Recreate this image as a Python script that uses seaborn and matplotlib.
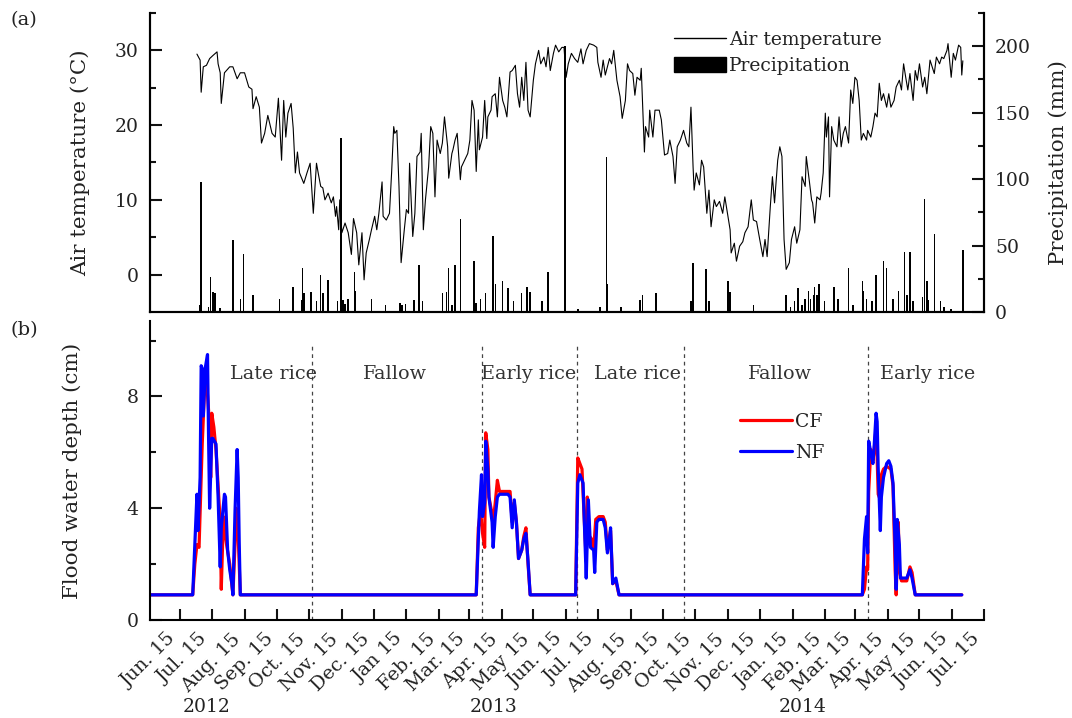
import numpy as np
import pandas as pd
import matplotlib
matplotlib.use("Agg")
import matplotlib.pyplot as plt
import matplotlib.transforms as mtransforms
from matplotlib.lines import Line2D
from matplotlib.patches import Patch
from matplotlib.ticker import FixedLocator
import seaborn as sns

START = pd.Timestamp("2012-06-15")

# ---- daily air temperature (deg C); day numbers counted from 15 Jun 2012 ----
temp_day = [16, 19, 20, 22, 25, 28, 31, 35, 36, 38, 39, 42, 47, 50, 54, 57, 61, 65, 68, 69,
            72, 75, 77, 80, 83, 87, 90, 93, 96, 98, 100, 102, 105, 107, 109, 111, 113, 117, 120, 123,
            126, 129, 131, 133, 135, 137, 140, 143, 145, 147, 148, 150, 151, 153, 156, 159, 162, 164, 167, 169,
            172, 174, 176, 179, 181, 184, 186, 188, 191, 192, 195, 198, 200, 202, 203, 205, 207, 209, 212, 214,
            216, 217, 220, 222, 224, 227, 228, 230, 232, 235, 237, 239, 241, 243, 246, 248, 250, 253, 254, 257,
            258, 260, 262, 265, 266, 269, 272, 274, 276, 278, 280, 282, 283, 286, 288, 290, 291, 294, 295, 298,
            300, 302, 305, 307, 309, 312, 314, 317, 319, 321, 323, 325, 327, 329, 331, 334, 336, 339, 341, 344,
            346, 348, 350, 353, 355, 358, 361, 363, 365, 367, 370, 373, 376, 379, 381, 384, 387, 391, 394, 395,
            398, 400, 402, 406, 408, 410, 413, 416, 418, 421, 423, 425, 428, 430, 432, 435, 436, 439, 440, 443,
            444, 447, 449, 453, 455, 458, 461, 463, 466, 468, 470, 473, 476, 479, 481, 483, 485, 486, 488, 491,
            493, 495, 498, 500, 502, 505, 507, 510, 513, 515, 518, 520, 521, 524, 526, 529, 532, 534, 537, 540,
            542, 545, 548, 551, 553, 555, 558, 560, 562, 565, 567, 569, 571, 573, 576, 578, 581, 583, 586, 588,
            591, 592, 595, 597, 598, 600, 602, 605, 606, 608, 610, 611, 613, 614, 616, 618, 621, 623, 625, 627,
            629, 632, 634, 636, 638, 640, 642, 644, 646, 649, 650, 653, 655, 657, 659, 661, 663, 665, 668, 670,
            672, 675, 677, 680, 682, 684, 686, 688, 690, 693, 695, 697, 699, 702, 704, 706, 709, 711, 713, 715,
            718, 720, 722, 725, 726, 729, 731, 733, 736, 738, 739, 740]
temp_c = [29.5, 28.7, 24.4, 27.8, 28.0, 28.9, 29.3, 29.8, 28.2, 27.0, 22.9, 27.0, 27.8, 27.8, 26.2, 27.0, 27.0, 25.1, 24.8, 22.2,
          23.8, 22.4, 17.6, 18.9, 21.3, 18.9, 18.4, 23.6, 15.3, 23.3, 18.4, 21.6, 22.9, 19.6, 13.6, 16.4, 13.6, 12.2, 13.6, 14.9,
          8.2, 14.9, 13.3, 11.8, 11.6, 10.0, 10.9, 9.6, 10.4, 7.8, 9.1, 6.0, 10.0, 5.6, 6.9, 5.6, 2.7, 7.5, 5.6, 1.3,
          5.6, -0.7, 2.9, 4.7, 6.0, 7.8, 6.0, 8.2, 12.4, 7.8, 7.3, 8.2, 13.6, 19.8, 18.9, 19.3, 11.8, 1.6, 6.0, 8.7,
          8.2, 14.9, 5.1, 8.2, 15.8, 16.4, 18.9, 6.0, 10.0, 14.4, 19.8, 18.9, 10.4, 18.0, 16.2, 17.6, 21.1, 17.1, 12.9, 16.2,
          16.7, 18.0, 18.9, 12.7, 14.4, 15.3, 16.2, 18.0, 23.3, 22.0, 13.8, 20.7, 16.7, 18.4, 23.3, 18.2, 21.1, 22.0, 23.8, 24.2,
          21.1, 26.4, 23.3, 22.4, 21.1, 27.1, 27.3, 28.0, 24.2, 22.4, 26.4, 23.3, 28.4, 22.0, 21.1, 26.0, 28.2, 30.0, 28.2, 29.1,
          27.8, 30.4, 27.3, 29.6, 30.7, 29.8, 30.4, 30.4, 26.4, 28.2, 29.6, 28.9, 28.4, 30.2, 28.2, 30.0, 30.9, 30.7, 30.4, 28.4,
          26.4, 28.7, 26.7, 28.9, 28.2, 30.0, 26.0, 23.8, 20.9, 23.3, 28.2, 27.3, 26.9, 24.0, 26.4, 26.0, 27.6, 16.4, 19.8, 18.4,
          22.0, 18.4, 22.0, 22.0, 20.7, 16.0, 16.2, 18.0, 15.8, 12.2, 17.1, 18.0, 19.3, 17.6, 17.1, 22.4, 14.4, 11.3, 13.6, 12.0,
          15.3, 14.4, 8.2, 11.3, 6.4, 10.0, 9.1, 9.8, 8.2, 10.4, 7.8, 6.0, 2.9, 4.2, 1.8, 3.8, 4.4, 5.6, 6.4, 10.0,
          7.3, 7.1, 4.7, 2.4, 4.7, 2.4, 9.1, 13.1, 9.6, 15.3, 17.1, 15.8, 4.7, 0.7, 1.6, 4.7, 6.4, 4.2, 6.0, 13.1,
          11.8, 15.8, 12.4, 10.0, 9.6, 6.9, 10.4, 10.0, 10.9, 13.6, 21.6, 18.4, 21.1, 10.4, 19.8, 18.0, 17.1, 21.1, 17.1, 18.9,
          19.8, 17.6, 24.7, 22.9, 26.4, 26.0, 23.3, 18.0, 18.9, 18.0, 19.3, 18.4, 19.8, 21.6, 21.1, 25.6, 23.3, 24.2, 22.4, 24.2,
          22.4, 23.3, 25.1, 26.0, 24.7, 28.2, 26.4, 24.7, 26.9, 23.3, 27.3, 26.0, 28.2, 25.1, 26.4, 24.2, 28.7, 27.8, 26.9, 29.1,
          28.2, 29.1, 28.9, 30.0, 30.9, 26.4, 29.6, 28.7, 30.7, 30.4, 26.7, 28.6]

# ---- daily precipitation (mm) ----
precip_day = [19, 20, 27, 29, 31, 33, 38, 50, 57, 60, 69, 94, 107, 115, 116, 117, 124, 129, 133, 135,
              140, 149, 152, 154, 156, 159, 165, 166, 181, 194, 208, 210, 213, 221, 226, 229, 248, 252, 254, 257,
              260, 265, 278, 280, 284, 289, 296, 298, 305, 310, 315, 323, 328, 331, 342, 348, 364, 376, 397, 403,
              404, 417, 435, 437, 450, 483, 485, 497, 500, 518, 520, 542, 573, 577, 581, 584, 588, 591, 594, 596,
              599, 600, 602, 604, 609, 618, 622, 632, 636, 645, 646, 649, 654, 658, 665, 668, 674, 679, 685, 687,
              690, 693, 702, 704, 706, 707, 713, 719, 722, 729, 740]
precip_mm = [5, 98, 4, 26, 15, 14, 3, 54, 10, 44, 13, 10, 19, 9, 33, 14, 15, 8, 28, 14,
             24, 8, 131, 9, 6, 10, 30, 16, 10, 5, 7, 5, 6, 9, 35, 8, 14, 15, 33, 5,
             35, 70, 38, 7, 10, 14, 57, 21, 23, 18, 8, 14, 19, 15, 8, 30, 200, 2, 4, 117,
             21, 4, 9, 13, 14, 8, 37, 32, 8, 23, 15, 5, 13, 4, 8, 18, 5, 10, 16, 10,
             13, 19, 13, 21, 8, 19, 10, 33, 5, 23, 16, 10, 8, 28, 38, 33, 10, 16, 45, 13,
             45, 8, 11, 85, 23, 9, 59, 8, 4, 2, 47]

# ---- flood water depth (cm) under the two water regimes ----
cf_day = [-30, 12, 14, 16, 18, 20, 21, 23, 25, 27, 29, 30, 32, 34, 36, 38, 39, 41, 42, 44, 47, 50, 52, 53, 55, 57,
          280, 282, 284, 286, 288, 289, 291, 292, 295, 296, 298, 300, 302, 307, 312, 314, 316, 318, 320, 323, 325, 327, 329, 331,
          374, 376, 378, 380, 382, 384, 385, 387, 389, 391, 393, 396, 400, 402, 404, 406, 407, 409, 412, 415,
          645, 647, 649, 650, 651, 653, 655, 656, 658, 659, 660, 662, 663, 665, 668, 672, 674, 676, 677, 679, 680, 682, 687, 690, 692, 695, 739]
cf_cm = [0.9, 0.9, 2.0, 2.7, 2.6, 5.1, 6.3, 8.1, 8.6, 7.5, 5.1, 7.4, 6.9, 6.1, 4.8, 3.5, 1.1, 3.7, 3.3, 2.7, 2.0, 0.9, 2.7, 4.0, 3.0, 0.9,
         0.9, 3.3, 3.9, 3.1, 2.6, 6.7, 6.1, 4.4, 3.8, 3.5, 4.2, 5.0, 4.6, 4.6, 4.6, 3.5, 4.2, 3.5, 2.2, 2.5, 3.0, 3.3, 2.0, 0.9,
         0.9, 5.8, 5.6, 5.4, 3.7, 2.1, 4.4, 3.0, 2.9, 2.5, 3.6, 3.7, 3.7, 3.5, 2.5, 3.0, 3.2, 1.3, 1.4, 0.9,
         0.9, 1.1, 1.9, 1.8, 4.6, 6.1, 5.7, 6.0, 6.9, 5.8, 4.5, 4.3, 5.2, 5.4, 5.5, 5.4, 4.8, 1.8, 0.9, 3.5, 1.8, 1.4, 1.4, 1.9, 1.7, 0.9, 0.9]
nf_day = [-30, 12, 14, 16, 17, 19, 20, 21, 22, 24, 26, 27, 28, 30, 31, 34, 36, 38, 39, 42, 43, 45, 47, 49, 50, 52, 54, 55, 56, 57,
          280, 283, 285, 286, 288, 289, 291, 292, 295, 296, 298, 300, 302, 307, 310, 312, 314, 316, 318, 320, 323, 325, 327, 329, 331,
          374, 376, 378, 381, 383, 384, 386, 388, 391, 392, 394, 396, 400, 402, 404, 406, 407, 409, 412, 415,
          645, 647, 649, 650, 651, 653, 655, 656, 658, 659, 660, 662, 663, 665, 668, 670, 672, 674, 676, 677, 678, 680, 681, 684, 687, 690, 692, 695, 739]
nf_cm = [0.9, 0.9, 2.7, 4.5, 3.2, 5.1, 9.1, 9.0, 7.3, 9.05, 9.5, 6.5, 4.0, 6.5, 6.5, 6.3, 4.4, 1.9, 3.3, 4.5, 4.4, 2.5, 1.8, 1.3, 0.9, 3.9, 6.1, 5.1, 2.7, 0.9,
         0.9, 3.9, 5.2, 3.7, 4.2, 6.4, 5.4, 4.4, 3.5, 2.6, 3.7, 4.4, 4.5, 4.5, 4.5, 4.4, 3.3, 4.3, 3.5, 2.2, 2.5, 2.9, 3.1, 2.1, 0.9,
         0.9, 4.9, 5.2, 4.9, 2.6, 1.5, 4.3, 2.6, 2.5, 1.7, 3.5, 3.6, 3.6, 3.3, 2.4, 2.9, 3.3, 1.3, 1.5, 0.9,
         0.9, 2.9, 3.7, 2.4, 6.4, 6.0, 5.6, 6.1, 7.4, 7.1, 5.4, 3.2, 4.4, 5.1, 5.6, 5.7, 5.5, 4.9, 2.7, 1.1, 3.6, 2.7, 1.5, 1.5, 1.5, 1.8, 1.5, 0.9, 0.9]

# ---- crop seasons ----
boundary_day = [125, 285, 375, 476, 650]
season_names = ["Late rice", "Fallow", "Early rice", "Late rice", "Fallow", "Early rice"]
season_mid_day = [88, 203, 330, 432, 567, 707]

tick_labels = ["Jun. 15", "Jul. 15", "Aug. 15", "Sep. 15", "Oct. 15", "Nov. 15", "Dec. 15",
               "Jan 15", "Feb. 15", "Mar. 15", "Apr. 15", "May 15", "Jun. 15", "Jul. 15",
               "Aug. 15", "Sep. 15", "Oct. 15", "Nov. 15", "Dec. 15", "Jan. 15", "Feb. 15",
               "Mar. 15", "Apr. 15", "May 15", "Jun. 15", "Jul. 15"]
years = ["2012", "2013", "2014"]


def to_date(days):
    return START + pd.to_timedelta(np.asarray(days, dtype=float), unit="D")


sns.set_theme(style="ticks")
plt.rcParams["font.family"] = ["DejaVu Serif"]
plt.rcParams["axes.linewidth"] = 1.5
plt.rcParams["text.color"] = "#222222"
plt.rcParams["axes.labelcolor"] = "#222222"
plt.rcParams["xtick.color"] = "#111111"
plt.rcParams["ytick.color"] = "#111111"
plt.rcParams["xtick.labelcolor"] = "#222222"
plt.rcParams["ytick.labelcolor"] = "#222222"

TICK_FS = 13.5
XTICK_FS = 13.8
LABEL_FS = 15.4

fig = plt.figure(figsize=(10.72, 7.18), dpi=100)
ax1 = fig.add_axes([0.1399, 0.5655, 0.7780, 0.4164])
ax2 = fig.add_axes([0.1399, 0.1365, 0.7780, 0.4164], sharex=ax1)
ax1r = ax1.twinx()

# panel (a): temperature line and precipitation bars
temp_df = pd.DataFrame({"date": to_date(temp_day), "temp": temp_c})
sns.lineplot(data=temp_df, x="date", y="temp", ax=ax1, color="black", linewidth=0.8,
             estimator=None, legend=False)
ax1r.bar(to_date(precip_day), precip_mm, width=1.4, color="black", linewidth=0)

# panel (b): flood water depth
flood_df = pd.concat([
    pd.DataFrame({"date": to_date(cf_day), "depth": cf_cm, "regime": "CF"}),
    pd.DataFrame({"date": to_date(nf_day), "depth": nf_cm, "regime": "NF"}),
])
sns.lineplot(data=flood_df, x="date", y="depth", hue="regime", hue_order=["CF", "NF"],
             palette={"CF": "#ff0000", "NF": "#0000ff"}, linewidth=2.3, ax=ax2,
             estimator=None, legend=False)

for d in boundary_day:
    ax2.plot([to_date([d])[0]] * 2, [0, 9.8], color="#444444", lw=0.9,
             ls=(0, (3, 3)), zorder=1)
for name, d in zip(season_names, season_mid_day):
    ax2.text(to_date([d])[0], 8.8, name, ha="center", va="center",
             fontsize=13.8, color="#333333")

# axes limits and ticks
xmin, xmax = to_date([-28.4])[0], to_date([760])[0]
ax1.set_xlim(xmin, xmax)
ax1.set_ylim(-5, 35)
ax1r.set_ylim(0, 225)
ax2.set_ylim(0, 10.7)

tick_dates = [START + pd.DateOffset(months=i) for i in range(len(tick_labels))]
ax2.set_xticks(tick_dates)
ax1.tick_params(axis="x", which="both", length=0, labelbottom=False)

ax1.yaxis.set_major_locator(FixedLocator([0, 10, 20, 30]))
ax1.yaxis.set_minor_locator(FixedLocator([5, 15, 25, 35]))
ax1r.yaxis.set_major_locator(FixedLocator([0, 50, 100, 150, 200]))
ax1r.yaxis.set_minor_locator(FixedLocator([25, 75, 125, 175, 225]))
ax2.yaxis.set_major_locator(FixedLocator([0, 4, 8]))
ax2.yaxis.set_minor_locator(FixedLocator([2, 6, 10]))

for ax in (ax1, ax1r, ax2):
    ax.tick_params(axis="y", which="major", direction="in", length=8.5, width=1.5,
                   labelsize=TICK_FS, pad=8)
    ax.tick_params(axis="y", which="minor", direction="in", length=4.5, width=1.5)
ax2.tick_params(axis="x", which="major", direction="in", length=8, width=1.5, pad=6)

ax1.spines["top"].set_visible(False)
ax1r.spines["top"].set_visible(False)
ax2.spines["top"].set_visible(False)
ax2.spines["right"].set_visible(False)
for ax in (ax1, ax1r, ax2):
    for s in ax.spines.values():
        s.set_linewidth(1.5)
        s.set_color("black")

ax1.set_xlabel("")
ax2.set_xlabel("")
ax1.set_ylabel("Air temperature (°C)", fontsize=LABEL_FS)
ax1r.set_ylabel("Precipitation (mm)", fontsize=LABEL_FS)
ax2.set_ylabel("Flood water depth (cm)", fontsize=LABEL_FS)
ax1.yaxis.set_label_coords(-0.072, 0.5)
ax2.yaxis.set_label_coords(-0.082, 0.5)
ax1r.yaxis.set_label_coords(1.077, 0.5)

# legends
h1 = [Line2D([], [], color="black", lw=1.0), Patch(facecolor="black", edgecolor="black")]
ax1.legend(h1, ["Air temperature", "Precipitation"], loc="upper left",
           bbox_to_anchor=(0.628, 0.94), frameon=False, fontsize=TICK_FS,
           handlelength=2.8, handleheight=0.9, handletextpad=0.15, labelspacing=0.4,
           borderpad=0, borderaxespad=0)
h2 = [Line2D([], [], color="#ff0000", lw=2.3), Line2D([], [], color="#0000ff", lw=2.3)]
ax2.legend(h2, ["CF", "NF"], loc="upper left", bbox_to_anchor=(0.707, 0.693),
           frameon=False, fontsize=TICK_FS, handlelength=2.8, handletextpad=0.15,
           labelspacing=0.7, borderpad=0, borderaxespad=0)

# rotated month labels, nudged left of their ticks
ax2.set_xticklabels(tick_labels, rotation=45, ha="right", rotation_mode="anchor",
                    fontsize=XTICK_FS)
shift = mtransforms.ScaledTranslation(-0.13, -0.015, fig.dpi_scale_trans)
for lab in ax2.get_xticklabels():
    lab.set_transform(lab.get_transform() + shift)

# year captions and panel tags
for yr, xp in zip(years, [207, 494, 803]):
    fig.text(xp / 1072, 1 - 707 / 718, yr, ha="center", va="center", fontsize=TICK_FS)
fig.text(10 / 1072, 1 - 20 / 718, "(a)", ha="left", va="center", fontsize=14)
fig.text(10 / 1072, 1 - 330 / 718, "(b)", ha="left", va="center", fontsize=14)

fig.savefig("out.png", dpi=100)
